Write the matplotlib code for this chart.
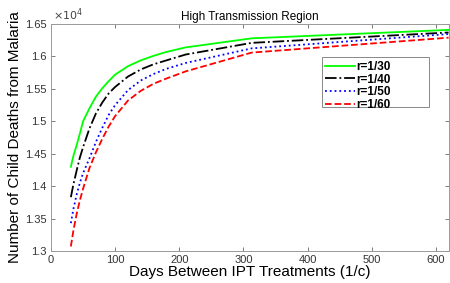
import matplotlib
matplotlib.use("Agg")
import matplotlib.pyplot as plt
from matplotlib.patches import Rectangle
import numpy as np

plt.rcParams['font.family'] = ['Liberation Sans', 'DejaVu Sans']

days = [31, 35, 40, 45, 50, 60, 70, 80, 90, 100, 120, 140, 160, 180, 210, 313, 620]
r30 = [1.430, 1.447, 1.463, 1.481, 1.500, 1.520, 1.538, 1.551, 1.562, 1.572, 1.585, 1.594, 1.601, 1.607, 1.614, 1.628, 1.641]
r40 = [1.383, 1.403, 1.424, 1.444, 1.460, 1.489, 1.512, 1.529, 1.543, 1.553, 1.569, 1.580, 1.588, 1.594, 1.603, 1.621, 1.637]
r50 = [1.343, 1.365, 1.387, 1.405, 1.420, 1.443, 1.468, 1.490, 1.510, 1.525, 1.548, 1.563, 1.573, 1.581, 1.590, 1.6125, 1.6346]
r60 = [1.307, 1.332, 1.357, 1.378, 1.396, 1.428, 1.452, 1.473, 1.492, 1.508, 1.532, 1.547, 1.558, 1.566, 1.577, 1.606, 1.629]
labels = ["r=1/30", "r=1/40", "r=1/50", "r=1/60"]
yticks = [1.3, 1.35, 1.4, 1.45, 1.5, 1.55, 1.6, 1.65]
ytick_labels = ["1.3", "1.35", "1.4", "1.45", "1.5", "1.55", "1.6", "1.65"]
xticks = [0, 100, 200, 300, 400, 500, 600]

fig = plt.figure(figsize=(4.5, 2.83), dpi=100)
ax = fig.add_axes([0.1133, 0.113, 0.885, 0.802])

scale = 1e4
styles = [("#00ff00", "-"), ("black", "-."), ("blue", ":"), ("red", "--")]
for ys, lab, (c, ls) in zip([r30, r40, r50, r60], labels, styles):
    ax.plot(days, np.array(ys) * scale, color=c, linestyle=ls, lw=1.3, label=lab)

ax.set_xlim(0, 621)
ax.set_ylim(1.3 * scale, 1.65 * scale)
ax.set_xticks(xticks)
ax.set_yticks(np.array(yticks) * scale)
ax.set_yticklabels(ytick_labels)
ax.tick_params(direction='in', top=True, right=True, length=3, width=0.6,
               colors='#666666', labelcolor='#333333', labelsize=8, pad=3)
for s in ax.spines.values():
    s.set_color('#999999')
    s.set_linewidth(0.7)

ax.text(0.005, 1.005, r"$\times10^4$", transform=ax.transAxes, fontsize=8,
        color='#444444', ha='left', va='bottom')
ax.set_title("High Transmission Region", fontsize=8.5, pad=3)
ax.set_xlabel("Days Between IPT Treatments (1/c)", fontsize=11, labelpad=0)
ax.set_ylabel("Number of Child Deaths from Malaria", fontsize=11, labelpad=2)

# legend box (MATLAB-style, wider than its content)
box_x0, box_x1, box_y0, box_y1 = 0.681, 0.950, 0.634, 0.855
ax.add_patch(Rectangle((box_x0, box_y0), box_x1 - box_x0, box_y1 - box_y0,
                       transform=ax.transAxes, facecolor='white',
                       edgecolor='#888888', lw=0.7, zorder=4))
leg = ax.legend(loc='upper left', bbox_to_anchor=(box_x0, box_y1 - 0.004),
                prop={'weight': 'bold', 'size': 8.5}, handlelength=2.5,
                frameon=False, borderpad=0.25, labelspacing=0.06,
                handletextpad=0.15, borderaxespad=0)
leg.set_zorder(5)

fig.savefig("out.png", dpi=100)
